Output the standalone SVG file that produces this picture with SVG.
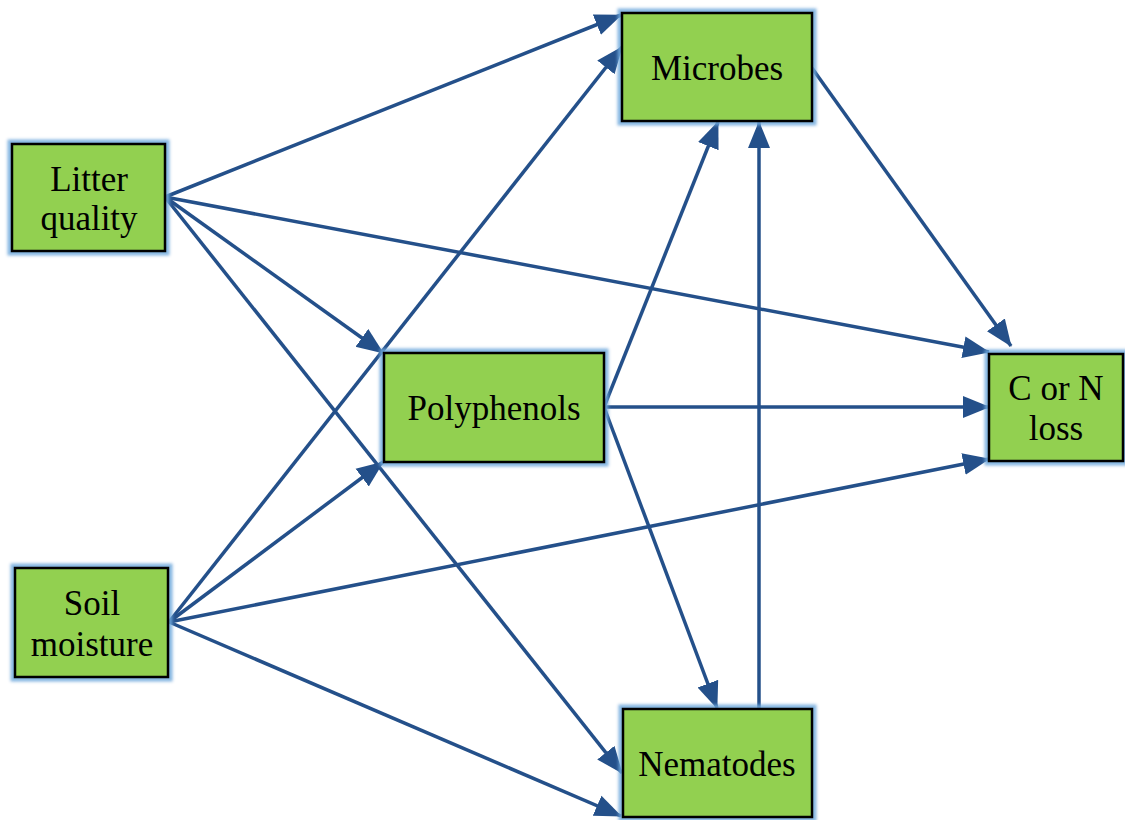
<svg xmlns="http://www.w3.org/2000/svg" width="1125" height="820" viewBox="0 0 1125 820">
<style>
.glow{fill:none;stroke:#6FA8DC;stroke-width:9;opacity:0.85;filter:url(#blur)}
.box{fill:#92D050;stroke:#000;stroke-width:2.5}
.t{font-family:"Liberation Serif","Times New Roman","DejaVu Serif",serif;font-size:35px;fill:#000;text-anchor:middle}
.c{stroke:#24508A;stroke-width:3.5;fill:none;marker-end:url(#ah)}
</style>
<defs>
<filter id="blur" x="-10%" y="-10%" width="120%" height="120%"><feGaussianBlur stdDeviation="1.8"/></filter>
<marker id="ah" markerUnits="userSpaceOnUse" markerWidth="28" markerHeight="24" refX="26" refY="11" orient="auto" viewBox="0 0 28 22">
<path d="M0,0 L27,11 L0,22 Z" fill="#24508A"/>
</marker>
</defs>
<rect width="1125" height="820" fill="#fff"/>
<g id="connectors">
<line class="c" x1="165" y1="197" x2="621" y2="15"/>
<line class="c" x1="165" y1="197" x2="989" y2="352"/>
<line class="c" x1="165" y1="197" x2="383" y2="353"/>
<line class="c" x1="165" y1="197" x2="622" y2="773"/>
<line class="c" x1="169" y1="622" x2="622" y2="47"/>
<line class="c" x1="169" y1="622" x2="383" y2="462"/>
<line class="c" x1="169" y1="622" x2="989" y2="459"/>
<line class="c" x1="169" y1="622" x2="621" y2="816"/>
<line class="c" x1="604" y1="407" x2="718" y2="122"/>
<line class="c" x1="604" y1="407" x2="989" y2="407"/>
<line class="c" x1="604" y1="407" x2="717" y2="708"/>
<line class="c" x1="759" y1="712" x2="759" y2="122"/>
<line class="c" x1="812" y1="68" x2="1011" y2="346"/>
</g>
<g id="litter">
<rect class="glow" x="12" y="144" width="153" height="107"/>
<rect class="box" x="12" y="144" width="153" height="107"/>
<text class="t" x="89" y="191">Litter</text>
<text class="t" x="89" y="230">quality</text>
</g>
<g id="soil">
<rect class="glow" x="15" y="568" width="153" height="109"/>
<rect class="box" x="15" y="568" width="153" height="109"/>
<text class="t" x="92" y="615">Soil</text>
<text class="t" x="92" y="656">moisture</text>
</g>
<g id="microbes">
<rect class="glow" x="622" y="13" width="190" height="108"/>
<rect class="box" x="622" y="13" width="190" height="108"/>
<text class="t" x="717" y="80">Microbes</text>
</g>
<g id="polyphenols">
<rect class="glow" x="384" y="353" width="220" height="109"/>
<rect class="box" x="384" y="353" width="220" height="109"/>
<text class="t" x="494" y="420">Polyphenols</text>
</g>
<g id="nematodes">
<rect class="glow" x="623" y="709" width="189" height="108"/>
<rect class="box" x="623" y="709" width="189" height="108"/>
<text class="t" x="717" y="776">Nematodes</text>
</g>
<g id="cnloss">
<rect class="glow" x="989" y="354" width="135" height="107"/>
<rect class="box" x="989" y="354" width="134" height="107"/>
<text class="t" x="1056" y="400">C or N</text>
<text class="t" x="1056" y="440">loss</text>
</g>
</svg>
